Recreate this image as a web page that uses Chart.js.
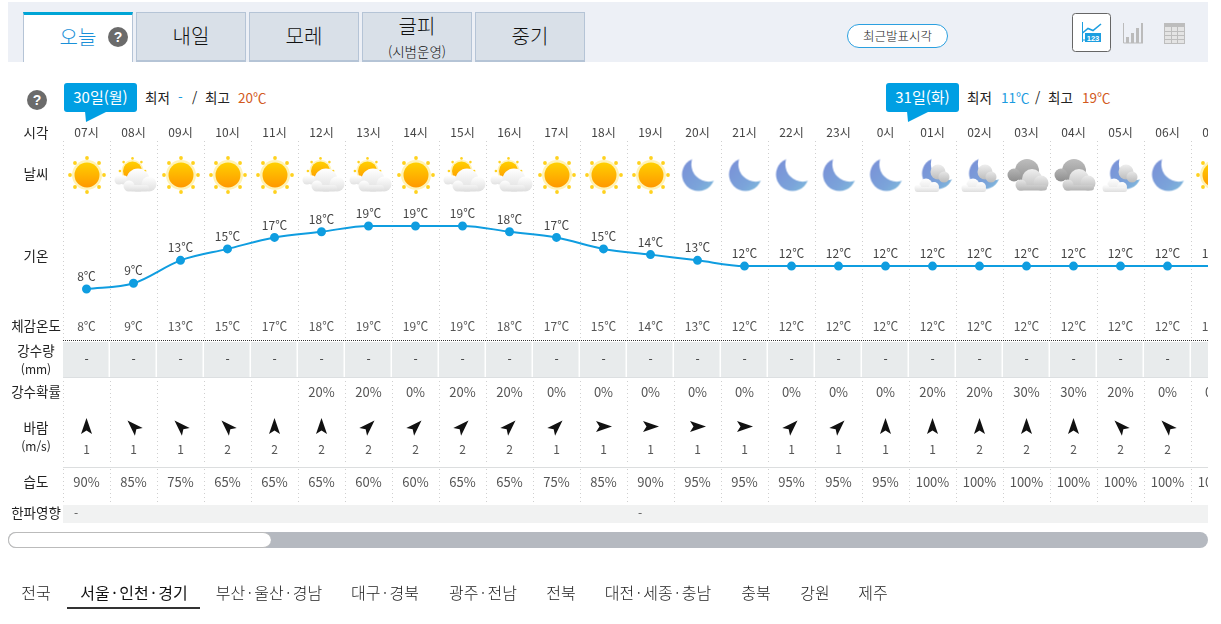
<!DOCTYPE html>
<html lang="ko"><head><meta charset="utf-8">
<script src="https://cdn.jsdelivr.net/npm/chart.js@4"></script>
<style>
html,body{margin:0;padding:0;background:#fff;width:1221px;height:624px;overflow:hidden;font-family:"Noto Sans CJK KR","Noto Sans",sans-serif;font-weight:300;color:#222}
.a{position:absolute;white-space:nowrap}
#bar{left:8px;top:2px;width:1200px;height:60px;background:#edf0f6}
.tab{box-sizing:border-box;top:12px;width:110px;height:50px;background:#d9e0e8;border:1px solid #b5c4d6;border-bottom-width:2px;text-align:center;font-size:20px;line-height:46px;color:#111}
.q{width:20px;height:20px;border-radius:50%;background:#6b6b6b;color:#fff;font:bold 14px/20px "Liberation Sans",sans-serif;text-align:center}
.badge{width:73px;height:29px;background:#009fe3;border-radius:3px;color:#fff;font-size:15px;line-height:27px;text-align:center;font-weight:400}
.mm{font-size:13.5px;line-height:18px;top:88px;color:#222;font-weight:400}
.nav{top:581px;font-size:16px;line-height:22px;transform:translateX(-50%);color:#222}
.nav b{font-weight:inherit;padding:0 2.5px}
#wrap{left:0;top:0;width:1208px;height:624px;overflow:hidden}
canvas{display:block}
</style></head><body>
<div class="a" id="bar"></div>
<div class="a tab" style="left:23px;width:110px;background:#fff;border-top:3px solid #00a5d6;border-bottom:0;height:50px;color:#1a90d8;padding-right:0;line-height:44px">오늘</div>
<div class="a q" style="left:108px;top:27px">?</div>
<div class="a tab" style="left:136px">내일</div>
<div class="a tab" style="left:249px">모레</div>
<div class="a tab" style="left:362px;line-height:24px;padding-top:1px">글피<div style="font-size:13.5px;line-height:18px;margin-top:4px">(시범운영)</div></div>
<div class="a tab" style="left:475px">중기</div>
<div class="a" style="box-sizing:border-box;left:847px;top:24px;width:101px;height:24px;border:1px solid #2ba0e0;border-radius:12px;background:#fff;font-size:12.5px;line-height:21px;text-align:center;color:#222">최근발표시각</div>
<svg class="a" style="left:1072px;top:13px" width="39" height="39" viewBox="0 0 39 39">
<rect x=".5" y=".5" width="38" height="38" rx="3" fill="#fff" stroke="#666"/>
<path d="M10.5 9V29M10 27H29" stroke="#1c9ee0" fill="none"/><path d="M10.5 20L16 15.500L21 17.500L29 11" stroke="#1c9ee0" stroke-width="1.600" fill="none"/>
<rect x="13" y="20" width="16" height="9" fill="#1c9ee0"/><text x="21" y="27.500" font-size="7.500" font-weight="bold" fill="#fff" text-anchor="middle" font-family="Liberation Sans">123</text></svg>
<svg class="a" style="left:1122px;top:22px" width="23" height="23" viewBox="0 0 23 23"><path d="M1.500 1V21H21" stroke="#bbb" fill="none"/><rect x="4" y="15" width="3" height="6" fill="#bbb"/><rect x="9" y="11" width="3" height="10" fill="#bbb"/><rect x="14" y="6" width="3" height="15" fill="#bbb"/><rect x="19" y="1" width="2" height="20" fill="#bbb"/></svg>
<svg class="a" style="left:1164px;top:23px" width="21" height="21" viewBox="0 0 21 21"><rect x=".5" y=".5" width="20" height="20" fill="#e4e4e4" stroke="#bdbdbd"/><rect x="1" y="1" width="19" height="3" fill="#bdbdbd"/><path d="M7.500 1V20M13.500 1V20M1 8.500H20M1 12.500H20M1 16.500H20" stroke="#bdbdbd" fill="none"/></svg>

<div class="a q" style="left:27px;top:90px">?</div>
<div class="a badge" style="left:64px;top:83px">30일(월)</div>
<svg class="a" style="left:84px;top:111px" width="26" height="12"><path d="M1 0H24L2 11Z" fill="#009fe3"/></svg>
<div class="a mm" style="left:145px">최저</div><div class="a mm" style="left:178px;color:#1a9be0">-</div><div class="a mm" style="left:192px">/</div><div class="a mm" style="left:205px">최고</div><div class="a mm" style="left:238px;color:#d2591d">20℃</div>
<div class="a badge" style="left:886px;top:83px">31일(화)</div>
<svg class="a" style="left:906px;top:111px" width="26" height="12"><path d="M1 0H24L2 11Z" fill="#009fe3"/></svg>
<div class="a mm" style="left:967px">최저</div><div class="a mm" style="left:1001px;color:#1a9be0">11℃</div><div class="a mm" style="left:1035px">/</div><div class="a mm" style="left:1048px">최고</div><div class="a mm" style="left:1082px;color:#d2591d">19℃</div>

<div class="a" id="wrap"><canvas id="c" width="1238" height="624" style="width:1238px;height:624px"></canvas></div>

<div class="a" style="left:8px;top:532px;width:1200px;height:16px;background:#b5b9c0;border-radius:8px"></div>
<div class="a" style="box-sizing:border-box;left:8px;top:532px;width:263px;height:16px;background:#fff;border:1px solid #bbb;border-right:0;border-radius:8px"></div>

<div class="a nav" style="left:36px">전국</div>
<div class="a nav" style="left:134px;color:#111;font-weight:400">서울<b>·</b>인천<b>·</b>경기</div>
<div class="a nav" style="left:269px">부산<b>·</b>울산<b>·</b>경남</div>
<div class="a nav" style="left:385px">대구<b>·</b>경북</div>
<div class="a nav" style="left:483px">광주<b>·</b>전남</div>
<div class="a nav" style="left:561px">전북</div>
<div class="a nav" style="left:658px">대전<b>·</b>세종<b>·</b>충남</div>
<div class="a nav" style="left:756px">충북</div>
<div class="a nav" style="left:815px">강원</div>
<div class="a nav" style="left:873px">제주</div>
<div class="a" style="left:67px;top:607px;width:133px;height:2px;background:#333"></div>

<script>
const hours = ['07시','08시','09시','10시','11시','12시','13시','14시','15시','16시','17시','18시','19시','20시','21시','22시','23시','0시','01시','02시','03시','04시','05시','06시','07시'];
const sky = ['sun','partly','sun','sun','sun','partly','partly','sun','partly','partly','sun','sun','sun','moon','moon','moon','moon','moon','mooncloud','mooncloud','cloud','cloud','mooncloud','moon','sun'];
const temperature = [8,9,13,15,17,18,19,19,19,18,17,15,14,13,12,12,12,12,12,12,12,12,12,12,12];
const feelsLike = [8,9,13,15,17,18,19,19,19,18,17,15,14,13,12,12,12,12,12,12,12,12,12,12,12];
const rainAmount = ['-','-','-','-','-','-','-','-','-','-','-','-','-','-','-','-','-','-','-','-','-','-','-','-','-'];
const rainChance = [null,null,null,null,null,20,20,0,20,20,0,0,0,0,0,0,0,0,20,20,30,30,20,0,0];
const windDir = [0,-45,-45,-45,0,0,45,45,45,45,45,90,90,90,90,45,45,0,0,0,0,0,-45,-45,null];
const windSpeed = [1,1,1,2,2,2,2,2,2,2,1,1,1,1,1,1,1,1,1,2,2,2,2,2,null];
const humidity = [90,85,75,65,65,65,60,60,65,65,75,85,90,95,95,95,95,95,100,100,100,100,100,100,100];
const coldWave = {0:'-',12:'-'};
const rowLabels = [['시각',133],['날씨',174],['기온',256],['체감온도',326],['강수량',351],['(mm)',369],['강수확률',392],['바람',428],['(m/s)',446],['습도',482],['한파영향',513]];

const FONT='"Noto Sans CJK KR","Noto Sans",sans-serif';
function layer(){const c=document.createElement('canvas');c.width=64;c.height=56;const x=c.getContext('2d');x.translate(32,27);return [c,x];}
function puff(x,cx,cy,r,top,bot){const g=x.createLinearGradient(0,cy-r,0,cy+r);g.addColorStop(0,top);g.addColorStop(1,bot);x.fillStyle=g;x.beginPath();x.arc(cx,cy,r,0,Math.PI*2);x.fill();}
function slab(x,l,r,t,b,top,bot){const g=x.createLinearGradient(0,t,0,b);g.addColorStop(0,top);g.addColorStop(1,bot);x.fillStyle=g;x.beginPath();x.roundRect(l,t,r-l,b-t,3);x.fill();}
function sun(x,cx,cy,r,glow,ray,dot){
  x.fillStyle='#fff3b8';x.beginPath();x.arc(cx,cy,glow,0,Math.PI*2);x.fill();
  x.fillStyle='#ffd21f';
  for(let i=0;i<8;i++){const a=i*Math.PI/4;x.beginPath();x.arc(cx+Math.cos(a)*ray,cy+Math.sin(a)*ray,dot,0,Math.PI*2);x.fill();}
  const g=x.createLinearGradient(0,cy-r,0,cy+r);g.addColorStop(0,'#ffd000');g.addColorStop(1,'#ff9800');
  x.fillStyle=g;x.beginPath();x.arc(cx,cy,r,0,Math.PI*2);x.fill();
}
function moon(x,cx,cy,k){
  const [c,m]=layer();
  const g=m.createLinearGradient(-12,-10,16,16);g.addColorStop(0,'#7a94d8');g.addColorStop(.6,'#7ba4da');g.addColorStop(1,'#80bddc');
  m.fillStyle=g;m.beginPath();m.arc(0,0,16.5,0,Math.PI*2);m.fill();
  m.globalCompositeOperation='destination-out';m.beginPath();m.arc(10.25,-10.25,17.4,0,Math.PI*2);m.fill();
  x.save();x.translate(cx,cy);x.scale(k,k);x.drawImage(c,-32,-27);x.restore();
}
const W1='#ffffff',W2='#dedede';
const sprites={
  sun(x){sun(x,0,0,12.5,15,17,1.9);},
  partly(x){
    sun(x,-1.5,-4,9.5,11,12.6,1.3);
    puff(x,-15,5,4.5,'#fff','#e2e2e2');puff(x,-10,5,4.5,'#fff','#e2e2e2');
    puff(x,4,5,11.5,W1,W2);puff(x,15,9,7.5,W1,W2);puff(x,-5,11,5.5,W1,W2);slab(x,-5,15,10,16.5,'#f4f4f4','#dcdcdc');
  },
  moon(x){moon(x,0.5,-0.5,1);},
  mooncloud(x){
    moon(x,4.5,-1.5,.94);
    puff(x,5,-3,7.500,'#eee','#bdbdbd');puff(x,11,2,5.5,'#e6e6e6','#bbb');
    puff(x,-7,10,6.5,W1,'#e3e3e3');puff(x,1,12,5,W1,'#e3e3e3');puff(x,-15,13,3.5,W1,'#e3e3e3');slab(x,-18,6,12,17,'#f6f6f6','#dedede');
  },
  cloud(x){
    puff(x,0,-4,12,'#bdbdbd','#8f8f8f');puff(x,-13,0,6.500,'#b5b5b5','#8d8d8d');
    puff(x,5,4,10,'#efefef','#bdbdbd');puff(x,-6,10,5.500,'#e6e6e6','#b5b5b5');puff(x,14,8,7.500,'#eaeaea','#b5b5b5');slab(x,-10,20,10,15.500,'#cfcfcf','#b3b3b3');
  }
};
const iconCache={};
function icon(k){if(!iconCache[k]){const [c,x]=layer();sprites[k](x);iconCache[k]=c;}return iconCache[k];}
function arrow(x,cx,cy,deg){
  x.save();x.translate(cx,cy);x.rotate(deg*Math.PI/180);x.fillStyle='#111';
  x.beginPath();x.moveTo(0,-8.5);x.lineTo(5.5,7.5);x.lineTo(0,4);x.lineTo(-5.5,7.5);x.closePath();x.fill();x.restore();
}
const ROW_TEXT='#555';
const tablePlugin={
  id:'table',
  beforeDatasetsDraw(ch){
    const x=ch.ctx,s=ch.scales.x,a=ch.chartArea;
    x.save();
    x.fillStyle='#fff';x.fillRect(a.left,340,1175,38);
    for(let i=0;i<hours.length;i++){const l=s.getPixelForValue(i)-23.5;x.fillStyle='#e8ebec';x.fillRect(l,342,45.5,35);}
    x.fillStyle='#dcdfe1';x.fillRect(a.left,377,1175,1);
    x.strokeStyle='#333';x.setLineDash([1,1]);x.beginPath();x.moveTo(a.left,340.5);x.lineTo(a.left+1175,340.5);x.stroke();x.setLineDash([]);
    x.fillStyle='#fff';x.fillRect(a.left,463,1175,5);
    x.fillStyle='#dcdedf';x.fillRect(a.left,467,1175,1);
    x.fillStyle='#f1f2f2';x.fillRect(a.left,505,1175,18);
    x.restore();
  },
  afterDatasetsDraw(ch){
    const x=ch.ctx,s=ch.scales.x,y=ch.scales.y;
    x.save();x.textAlign='center';x.textBaseline='middle';
    x.fillStyle='#222';
    rowLabels.forEach(([t,py])=>{x.font=(t[0]==='('?'12px ':'13.5px ')+FONT;x.fillText(t,36,py);});
    hours.forEach((_,i)=>{
      const px=s.getPixelForValue(i);
      x.drawImage(icon(sky[i]),Math.round(px)-32,175-27);
      x.font='12px '+FONT;
      x.fillStyle='#444';
      x.fillText(temperature[i]+'℃',px,y.getPixelForValue(temperature[i])-12.5);
      x.fillStyle=ROW_TEXT;
      x.fillText(feelsLike[i]+'℃',px,326);
      x.fillStyle='#333';
      x.fillText(rainAmount[i],px,359);
      x.fillStyle=ROW_TEXT;
      x.font='13px '+FONT;
      if(rainChance[i]!==null)x.fillText(rainChance[i]+'%',px,392);
      x.fillText(humidity[i]+'%',px,482);
      x.font='12px '+FONT;
      if(windDir[i]!==null)arrow(x,px,426.5,windDir[i]);
      x.fillStyle=ROW_TEXT;
      if(windSpeed[i]!==null)x.fillText(windSpeed[i],px,449);
      if(coldWave[i])x.fillText(coldWave[i],s.getPixelForValue(i)-10.5,513);
    });
    x.restore();
  }
};
new Chart(document.getElementById('c'),{
  type:'line',
  plugins:[tablePlugin],
  data:{labels:hours,datasets:[{data:temperature,borderColor:'#0f9de0',backgroundColor:'#0f9de0',borderWidth:2,pointRadius:3.5,pointHoverRadius:3.5,cubicInterpolationMode:'monotone',clip:false}]},
  options:{
    responsive:false,animation:false,devicePixelRatio:1,
    layout:{autoPadding:false,padding:{left:63,right:0,top:125,bottom:119}},
    plugins:{legend:{display:false},tooltip:{enabled:false},title:{display:false}},
    scales:{
      x:{type:'category',position:'top',offset:true,
         afterFit(sc){sc.height=16;sc.paddingLeft=0;sc.paddingRight=0;},
         grid:{offset:true,drawTicks:false,color:'#cfcfcf',lineWidth:1},
         border:{display:false,dash:[1,3]},
         ticks:{color:'#444',font:{family:FONT,size:12},padding:1,maxRotation:0,autoSkip:false}},
      y:{display:false,min:-29.72,max:33.84}
    }
  }
});
</script>
</body></html>
